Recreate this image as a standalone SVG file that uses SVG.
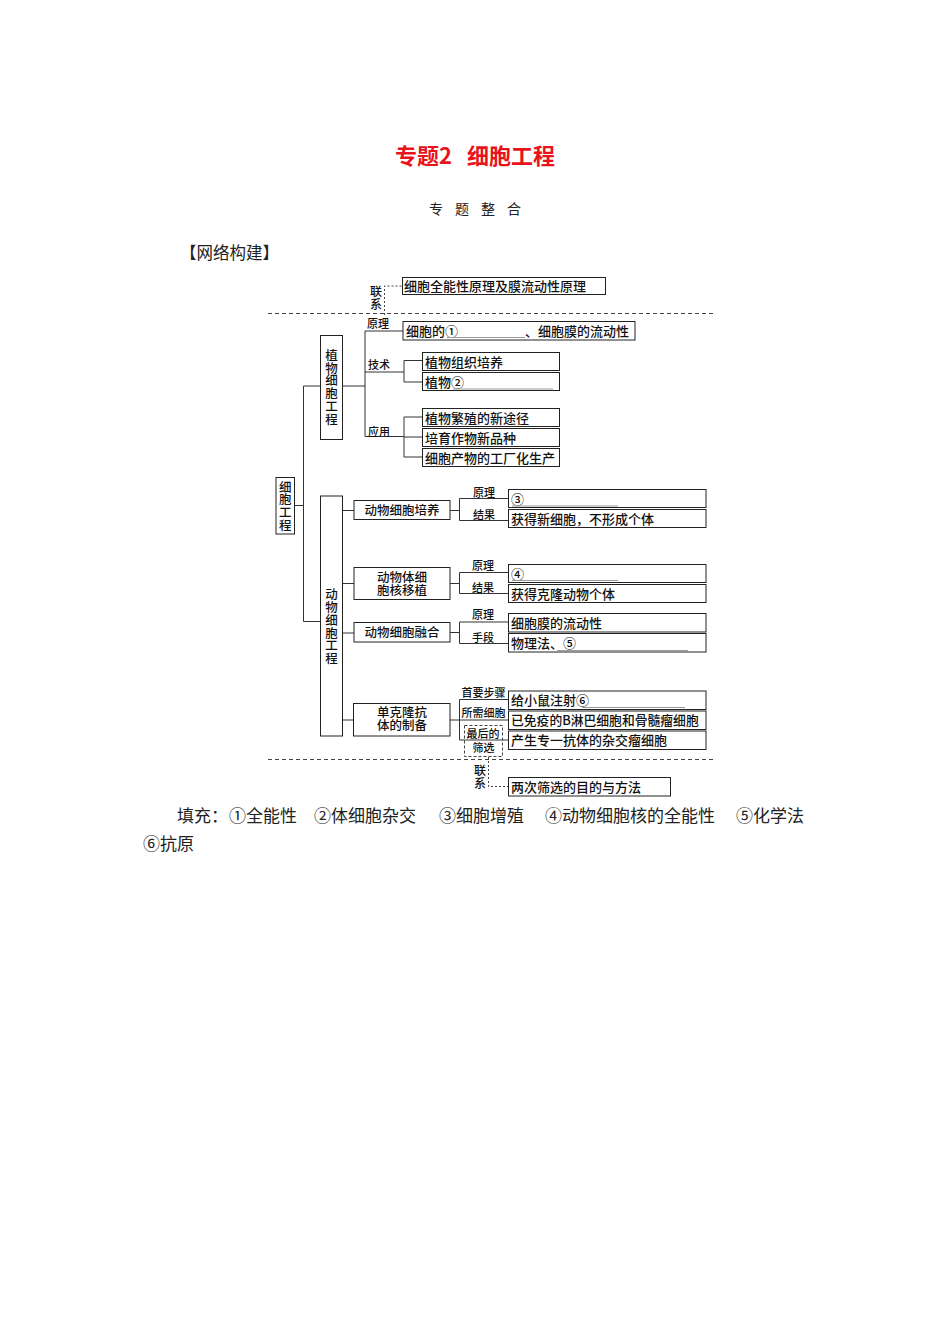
<svg xmlns="http://www.w3.org/2000/svg" width="950" height="1344" viewBox="0 0 950 1344">
<style>
.bg{fill:#fff}
.box{fill:none;stroke:#222;stroke-width:1}
.ln{fill:none;stroke:#333;stroke-width:1}
.dash{fill:none;stroke:#444;stroke-width:1;stroke-dasharray:4 3}
.dot{fill:none;stroke:#444;stroke-width:1;stroke-dasharray:2 2}
.ul{fill:none;stroke:#999;stroke-width:1}
text{font-family:"Noto Sans CJK SC","Noto Sans CJK JP",sans-serif;fill:#111}
.t{font-size:13px;font-weight:500}
.c{text-anchor:middle}
.lb{font-size:11px;font-weight:500}
.vt{font-size:12.5px;font-weight:500;writing-mode:vertical-rl;letter-spacing:0.3px}
.lx{font-size:12px;font-weight:500;writing-mode:vertical-rl;letter-spacing:1px}
.title{font-size:22px;font-weight:bold;fill:#e8131b}
.sub{font-size:14px;fill:#222}
.body{font-size:17px;fill:#222}
</style>
<rect class="bg" x="0" y="0" width="950" height="1344"/>

<g id="header">
<text class="title" y="164"><tspan x="395">专题2</tspan><tspan x="467">细胞工程</tspan></text>
<text class="sub" x="429 455 481 507" y="214">专题整合</text>
<text class="body" x="180" y="259" style="font-size:16.5px">【网络构建】</text>
</g>

<g id="connectors">
<line class="dash" x1="268" y1="313.5" x2="716" y2="313.5"/>
<line class="dash" x1="268" y1="759.5" x2="716" y2="759.5"/>
<polyline class="dot" points="384.5,315 384.5,286 402,286"/>
<polyline class="dot" points="488.5,757 488.5,786.5 508,786.5"/>
<line class="ln" x1="294.5" y1="505.5" x2="303.5" y2="505.5"/>
<polyline class="ln" points="320.5,386 303.5,386 303.5,621.5 320.5,621.5"/>
<line class="ln" x1="342.5" y1="386" x2="365" y2="386"/>
<line class="ln" x1="365" y1="331" x2="365" y2="436.5"/>
<line class="ln" x1="365" y1="331" x2="403" y2="331"/>
<line class="ln" x1="365" y1="372" x2="404" y2="372"/>
<polyline class="ln" points="422.5,360.5 404,360.5 404,382 422.5,382"/>
<line class="ln" x1="365" y1="436.5" x2="404" y2="436.5"/>
<polyline class="ln" points="422.5,417 404,417 404,457 422.5,457"/>
<line class="ln" x1="404" y1="437" x2="422.5" y2="437"/>
<line class="ln" x1="342.5" y1="510.5" x2="354" y2="510.5"/>
<line class="ln" x1="342.5" y1="583.5" x2="354" y2="583.5"/>
<line class="ln" x1="342.5" y1="633" x2="354" y2="633"/>
<line class="ln" x1="342.5" y1="720" x2="353.5" y2="720"/>
<line class="ln" x1="450" y1="510.5" x2="459.5" y2="510.5"/>
<polyline class="ln" points="508.5,498.5 459.5,498.5 459.5,520.5 508.5,520.5"/>
<line class="ln" x1="450" y1="583.5" x2="459.5" y2="583.5"/>
<polyline class="ln" points="508.5,572.5 459.5,572.5 459.5,593.5 508.5,593.5"/>
<line class="ln" x1="450" y1="632.5" x2="459.5" y2="632.5"/>
<polyline class="ln" points="508.5,622 459.5,622 459.5,643.5 508.5,643.5"/>
<line class="ln" x1="450" y1="720" x2="508.5" y2="720"/>
<polyline class="ln" points="508.5,699.5 459.5,699.5 459.5,740 508.5,740"/>
</g>

<g id="labels">
<text class="lx" x="376" y="285">联系</text>
<text class="lx" x="480" y="764.5">联系</text>
<text class="lb" x="367" y="328">原理</text>
<text class="lb" x="368" y="369">技术</text>
<text class="lb" x="368" y="435.5">应用</text>
<text class="lb" x="473" y="496.5">原理</text>
<text class="lb" x="473" y="518.5">结果</text>
<text class="lb" x="472" y="570">原理</text>
<text class="lb" x="472" y="592">结果</text>
<text class="lb" x="472" y="619">原理</text>
<text class="lb" x="472" y="642">手段</text>
<text class="lb" x="461.5" y="696.5">首要步骤</text>
<text class="lb" x="461.5" y="716.5">所需细胞</text>
</g>

<g id="n-link-top">
<rect class="box" x="402.5" y="277.5" width="203" height="17"/>
<text class="t" x="404" y="291">细胞全能性原理及膜流动性原理</text>
</g>

<g id="n-root">
<rect class="box" x="276" y="477.5" width="18.5" height="56.5"/>
<text class="vt" x="285.3" y="480.5">细胞工程</text>
</g>

<g id="n-plant">
<rect class="box" x="320.5" y="335.5" width="22" height="104"/>
<text class="vt" x="331.5" y="348.8">植物细胞工程</text>
</g>

<g id="n-plant-principle">
<rect class="box" x="403" y="321.5" width="232" height="18.5"/>
<text class="t" x="406" y="335.5">细胞的①</text>
<line class="ul" x1="447" y1="337.5" x2="525" y2="337.5"/>
<text class="t" x="525" y="335.5">、细胞膜的流动性</text>
</g>

<g id="n-tissue">
<rect class="box" x="422.5" y="352.5" width="137" height="18"/>
<text class="t" x="425" y="366.5">植物组织培养</text>
</g>
<g id="n-hybrid">
<rect class="box" x="422.5" y="372.5" width="137" height="18"/>
<text class="t" x="425" y="386.5">植物②</text>
<line class="ul" x1="453" y1="389" x2="553" y2="389"/>
</g>
<g id="n-app1">
<rect class="box" x="422.5" y="408.5" width="137" height="18"/>
<text class="t" x="425" y="422.5">植物繁殖的新途径</text>
</g>
<g id="n-app2">
<rect class="box" x="422.5" y="428.5" width="137" height="18"/>
<text class="t" x="425" y="442.5">培育作物新品种</text>
</g>
<g id="n-app3">
<rect class="box" x="422.5" y="448.5" width="137" height="18"/>
<text class="t" x="425" y="462.5">细胞产物的工厂化生产</text>
</g>

<g id="n-animal">
<rect class="box" x="320.5" y="496" width="22" height="240"/>
<text class="vt" x="331.5" y="588.2">动物细胞工程</text>
</g>

<g id="n-culture">
<rect class="box" x="354" y="500.5" width="96" height="19"/>
<text class="t c" x="402" y="514.5" style="font-size:12.5px">动物细胞培养</text>
</g>
<g id="n-culture-p">
<rect class="box" x="508.5" y="489.5" width="197.5" height="18"/>
<text class="t" x="511" y="503.5">③</text>
<line class="ul" x1="512" y1="506" x2="618" y2="506"/>
</g>
<g id="n-culture-r">
<rect class="box" x="508.5" y="509.5" width="197.5" height="18"/>
<text class="t" x="511" y="523.5">获得新细胞，不形成个体</text>
</g>

<g id="n-nt">
<rect class="box" x="354" y="567.5" width="96" height="32"/>
<text class="t c" style="font-size:12.5px"><tspan x="402" y="581.5">动物体细</tspan><tspan x="402" y="595">胞核移植</tspan></text>
</g>
<g id="n-nt-p">
<rect class="box" x="508.5" y="564.5" width="197.5" height="18"/>
<text class="t" x="511" y="578.5">④</text>
<line class="ul" x1="512" y1="580.5" x2="618" y2="580.5"/>
</g>
<g id="n-nt-r">
<rect class="box" x="508.5" y="584.5" width="197.5" height="18"/>
<text class="t" x="511" y="598.5">获得克隆动物个体</text>
</g>

<g id="n-fusion">
<rect class="box" x="354" y="622.5" width="96" height="19.5"/>
<text class="t c" x="402" y="637" style="font-size:12.5px">动物细胞融合</text>
</g>
<g id="n-fusion-p">
<rect class="box" x="508.5" y="613.5" width="197.5" height="18.5"/>
<text class="t" x="511" y="627.5">细胞膜的流动性</text>
</g>
<g id="n-fusion-m">
<rect class="box" x="508.5" y="633.5" width="197.5" height="18.5"/>
<text class="t" x="511" y="647.5">物理法、⑤</text>
<line class="ul" x1="557" y1="650.5" x2="688" y2="650.5"/>
</g>

<g id="n-mab">
<rect class="box" x="353.5" y="703.5" width="96.5" height="32.5"/>
<text class="t c" style="font-size:12.5px"><tspan x="402" y="716.7">单克隆抗</tspan><tspan x="402" y="730.3">体的制备</tspan></text>
</g>
<g id="n-mab-1">
<rect class="box" x="508.5" y="691" width="197.5" height="18.5"/>
<text class="t" x="511" y="705">给小鼠注射⑥</text>
<line class="ul" x1="582" y1="707.5" x2="685" y2="707.5"/>
</g>
<g id="n-mab-2">
<rect class="box" x="508.5" y="711" width="197.5" height="18.5"/>
<text class="t" x="511" y="725" style="font-size:12.8px">已免疫的B淋巴细胞和骨髓瘤细胞</text>
</g>
<g id="n-mab-3">
<rect class="box" x="508.5" y="731" width="197.5" height="18.5"/>
<text class="t" x="511" y="745">产生专一抗体的杂交瘤细胞</text>
</g>
<g id="n-screen">
<rect class="dot" x="464.5" y="725.5" width="38" height="31" style="stroke-dasharray:3 2"/>
<text class="lb"><tspan x="466.5" y="737.5">最后的</tspan><tspan x="472.5" y="751.5">筛选</tspan></text>
</g>
<g id="n-link-bottom">
<rect class="box" x="508.5" y="777.5" width="162" height="18.5"/>
<text class="t" x="511" y="791.5">两次筛选的目的与方法</text>
</g>

<g id="footer">
<text class="body" x="177" y="821.5">填充：</text>
<text class="body" x="229" y="821.5">①全能性</text>
<text class="body" x="314" y="821.5">②体细胞杂交</text>
<text class="body" x="439" y="821.5">③细胞增殖</text>
<text class="body" x="545" y="821.5">④动物细胞核的全能性</text>
<text class="body" x="736" y="821.5">⑤化学法</text>
<text class="body" x="143" y="849.5">⑥抗原</text>
</g>
</svg>
